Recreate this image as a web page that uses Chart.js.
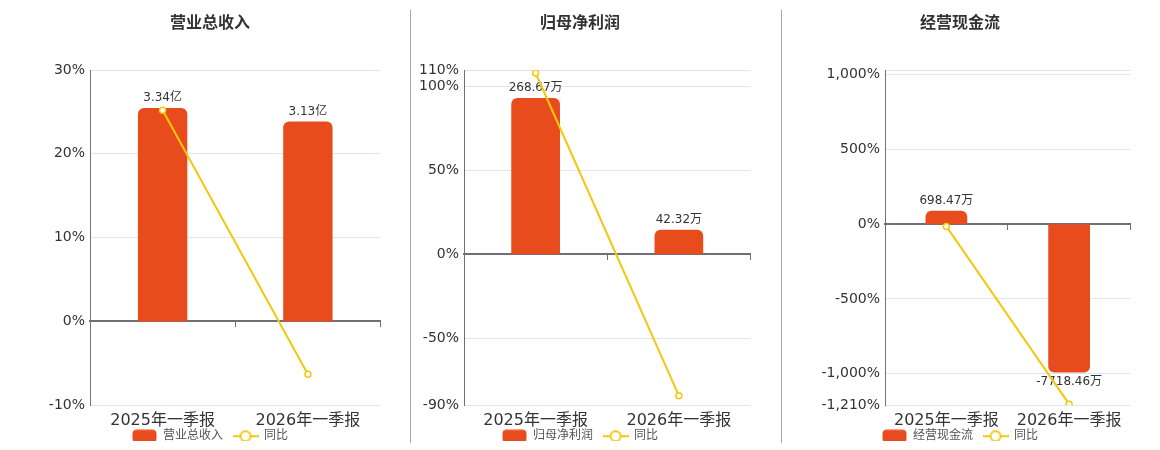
<!DOCTYPE html>
<html>
<head>
<meta charset="utf-8">
<script src="https://cdn.jsdelivr.net/npm/chart.js@4.4.1/dist/chart.umd.min.js"></script>
<style>
  body { margin: 0; background: #fff; }
  #wrap { position: relative; width: 1160px; height: 450px; }
  .panel { position: absolute; top: 0; height: 450px; }
  .divider { position: absolute; top: 10px; height: 433px; width: 0; border-left: 1px solid #a8a8a8; }
</style>
</head>
<body>
<div id="wrap">
  <div class="panel" style="left:34px;width:352px"><canvas id="revenueChart"></canvas></div>
  <div class="panel" style="left:404px;width:352px"><canvas id="profitChart"></canvas></div>
  <div class="panel" style="left:784px;width:352px"><canvas id="cashChart"></canvas></div>
  <div class="divider" style="left:410px"></div>
  <div class="divider" style="left:781px"></div>
</div>
<script>
const categories = ['2025年一季报', '2026年一季报'];

const revenueValues = [3.34, 3.13];
const revenueYoy = [25.2, -6.3];
const revenueTicks = [30, 20, 10, 0, -10];
const revenueTickLabels = ['30%', '20%', '10%', '0%', '-10%'];

const profitValues = [268.67, 42.32];
const profitYoy = [108.2, -84.3];
const profitTicks = [110, 100, 50, 0, -50, -90];
const profitTickLabels = ['110%', '100%', '50%', '0%', '-50%', '-90%'];

const cashValues = [698.47, -7718.46];
const cashYoy = [-15, -1203];
const cashTicks = [1030, 1000, 500, 0, -500, -1000, -1210];
const cashTickLabels = ['', '1,000%', '500%', '0%', '-500%', '-1,000%', '-1,210%'];

const FONT = "'DejaVu Sans', 'Noto Sans CJK SC', sans-serif";
const BAR_COLOR = '#e84c1d';
const LINE_COLOR = '#f2c80f';
const AXIS_COLOR = '#6e7079';
const GRID_COLOR = '#e0e6f1';

Chart.defaults.font.family = FONT;

// legend markers
function barSwatch() {
  const c = document.createElement('canvas');
  c.width = 25; c.height = 14;
  const g = c.getContext('2d');
  g.fillStyle = BAR_COLOR;
  g.beginPath();
  g.roundRect(0.5, 0.5, 24, 13, 4);
  g.fill();
  return c;
}
function lineMarker() {
  const c = document.createElement('canvas');
  c.width = 26; c.height = 14;
  const g = c.getContext('2d');
  g.strokeStyle = LINE_COLOR;
  g.lineWidth = 2;
  g.beginPath(); g.moveTo(0, 7); g.lineTo(26, 7); g.stroke();
  g.fillStyle = '#fff';
  g.beginPath(); g.arc(13, 7, 5, 0, Math.PI * 2); g.fill(); g.stroke();
  return c;
}

const barLabels = {
  id: 'barLabels',
  afterDatasetDraw(chart, args, opts) {
    if (args.index !== 0) return;
    const ctx = chart.ctx;
    const data = chart.data.datasets[0].data;
    ctx.save();
    ctx.font = '12px ' + FONT;
    ctx.fillStyle = '#333';
    ctx.textAlign = 'center';
    args.meta.data.forEach((bar, i) => {
      const v = data[i];
      const txt = v.toFixed(2) + opts.unit;
      if (v >= 0) {
        ctx.textBaseline = 'bottom';
        ctx.fillText(txt, bar.x, bar.y - 4);
      } else {
        ctx.textBaseline = 'top';
        ctx.fillText(txt, bar.x, bar.y + 3);
      }
    });
    ctx.restore();
  }
};

// pull the legend up a little so it sits tight under the axis labels
const legendShift = {
  id: 'legendShift',
  afterLayout(chart) {
    chart.legend.top -= 9;
    chart.legend.bottom -= 9;
  }
};

function makeChart(id, title, barName, unit, values, yoy, ticks, tickLabels, axisWidth, fill) {
  const pMax = Math.max(...ticks);
  const pMin = Math.min(...ticks);
  const big = values.reduce((a, b) => Math.abs(b) > Math.abs(a) ? b : a, 0);
  const k = big >= 0 ? big / (fill * pMax) : -big / (fill * -pMin);

  new Chart(document.getElementById(id), {
    type: 'bar',
    data: {
      labels: categories,
      datasets: [{
        label: barName,
        data: values,
        yAxisID: 'y1',
        backgroundColor: BAR_COLOR,
        borderRadius: 6,
        barPercentage: 0.34,
        categoryPercentage: 1,
        order: 2
      }, {
        type: 'line',
        label: '同比',
        data: yoy,
        yAxisID: 'y',
        borderColor: LINE_COLOR,
        borderWidth: 2,
        pointRadius: 3,
        pointBorderWidth: 1.5,
        pointBackgroundColor: '#fff',
        pointBorderColor: LINE_COLOR,
        tension: 0,
        order: 1
      }]
    },
    options: {
      responsive: true,
      maintainAspectRatio: false,
      animation: false,
      layout: { padding: 0 },
      plugins: {
        title: {
          display: true,
          text: title,
          color: '#333',
          font: { size: 16, weight: 'bold' },
          padding: { top: 14, bottom: 36.8 }
        },
        legend: {
          position: 'bottom',
          maxHeight: 20.8,
          labels: {
            usePointStyle: true,
            pointStyleWidth: 25,
            boxHeight: 12,
            padding: 10,
            color: '#555',
            font: { size: 12 },
            generateLabels: () => [
              { text: barName, pointStyle: barSwatch(), fillStyle: BAR_COLOR, strokeStyle: 'transparent', lineWidth: 0, datasetIndex: 0, fontColor: '#555' },
              { text: '同比', pointStyle: lineMarker(), fillStyle: '#fff', strokeStyle: 'transparent', lineWidth: 0, datasetIndex: 1, fontColor: '#555' }
            ]
          }
        },
        tooltip: { enabled: false },
        barLabels: { unit: unit }
      },
      scales: {
        x: {
          offset: true,
          grid: { display: false, drawTicks: false },
          border: { display: false },
          ticks: { color: '#333', font: { size: 16 }, padding: 6, maxRotation: 0, autoSkip: false },
          afterFit: s => { s.height = 24; }
        },
        x2: {
          type: 'category',
          labels: categories,
          position: { y: 0 },
          offset: true,
          grid: { offset: true, drawOnChartArea: false, drawTicks: true, tickLength: 5, color: AXIS_COLOR, lineWidth: 1 },
          ticks: { display: false },
          border: { color: AXIS_COLOR, width: 2 }
        },
        y: {
          position: 'left',
          min: pMin,
          max: pMax,
          afterBuildTicks: s => { s.ticks = ticks.map(v => ({ value: v })); },
          afterFit: s => { s.width = axisWidth; },
          ticks: {
            autoSkip: false,
            padding: 5,
            color: '#333',
            font: { size: 14 },
            callback: (v, i) => tickLabels[i]
          },
          grid: { color: GRID_COLOR, drawTicks: false },
          border: { color: AXIS_COLOR, width: 1 }
        },
        y1: {
          display: false,
          min: pMin * k,
          max: pMax * k
        }
      }
    },
    plugins: [barLabels, legendShift]
  });
}

makeChart('revenueChart', '营业总收入', '营业总收入', '亿', revenueValues, revenueYoy, revenueTicks, revenueTickLabels, 56, 0.849);
makeChart('profitChart', '归母净利润', '归母净利润', '万', profitValues, profitYoy, profitTicks, profitTickLabels, 60, 0.848);
makeChart('cashChart', '经营现金流', '经营现金流', '万', cashValues, cashYoy, cashTicks, cashTickLabels, 101, 0.82);
</script>
</body>
</html>
